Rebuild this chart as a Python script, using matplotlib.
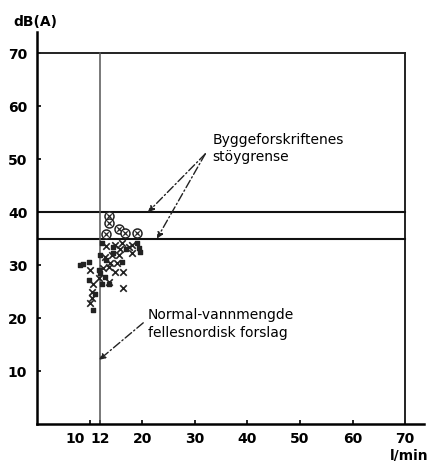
import matplotlib
matplotlib.use("Agg")
import matplotlib.pyplot as plt
from matplotlib.transforms import ScaledTranslation

# ---- data (flow l/min, level dB(A)) ----
circ_x = [13.6, 13.6, 15.5, 16.7, 19.1, 13.1]
circ_y = [39.2, 37.9, 36.9, 36.0, 36.1, 35.8]

cross_x = [13.2, 14.8, 17.4, 18.1, 14.2, 15.5, 12.9, 10.1, 13.6, 14.8, 16.4, 16.4,
           10.4, 10.1, 13.6, 15.8, 16.1, 13.9, 15.2, 11.7, 10.7, 12.6, 18.0, 10.4]
cross_y = [33.6, 33.8, 33.5, 32.2, 31.9, 31.9, 31.6, 29.1, 29.7, 28.7, 28.7, 25.6,
           25.0, 22.8, 26.9, 33.1, 34.1, 30.3, 30.3, 27.5, 26.5, 29.4, 33.8, 23.7]

dot_x = [19.0, 19.3, 19.6, 12.3, 14.5, 17.0, 12.0, 13.2, 16.1, 8.2, 8.7, 9.8,
         11.7, 12.9, 9.8, 12.3, 13.6, 11.0, 10.7, 12.0, 14.5]
dot_y = [34.1, 33.3, 32.5, 34.1, 33.5, 33.1, 31.9, 30.9, 30.6, 30.1, 30.2, 30.6,
         29.1, 27.8, 27.2, 26.5, 26.4, 24.5, 21.5, 28.5, 32.2]

limit_levels = [40, 35]      # Byggeforskriftenes støygrense
norm_flow = 12               # Normal-vannmengde
frame_max = 70

xticks = [10, 12, 20, 30, 40, 50, 60, 70]
xticklabels = ["10", "12", "20", "30", "40", "50", "60", "70"]
yticks = [10, 20, 30, 40, 50, 60, 70]
yticklabels = ["10", "20", "30", "40", "50", "60", "70"]

# ---- figure ----
fig = plt.figure(figsize=(4.29, 4.61), dpi=100)
ax = fig.add_axes([37 / 429, 37 / 461, 386.6 / 429, 392 / 461])
ax.set_xlim(0, 73.5)
ax.set_ylim(0, 74)

for s in ("top", "right"):
    ax.spines[s].set_visible(False)
for s in ("left", "bottom"):
    ax.spines[s].set_linewidth(1.8)
    ax.spines[s].set_color("black")

# frame and reference lines
ax.plot([0, frame_max], [frame_max, frame_max], color="#222222", lw=1.4)
ax.plot([frame_max, frame_max], [0, frame_max], color="#222222", lw=1.4)
for lv in limit_levels:
    ax.plot([0, frame_max], [lv, lv], color="#111111", lw=1.5)
ax.plot([norm_flow, norm_flow], [0, frame_max], color="#555555", lw=1.1)

# scatter
ax.scatter(cross_x, cross_y, marker="x", s=22, color="#222222", linewidths=1.2, zorder=3)
ax.scatter(dot_x, dot_y, marker="s", s=6, color="#222222", zorder=3)
ax.scatter(circ_x, circ_y, marker="o", s=42, facecolors="white", edgecolors="#222222",
           linewidths=1.1, zorder=4)
ax.scatter(circ_x, circ_y, marker="x", s=10, color="#222222", linewidths=0.9, zorder=5)

# ticks
ax.set_xticks(xticks)
ax.set_xticklabels(xticklabels)
ax.set_yticks(yticks)
ax.set_yticklabels(yticklabels)
ax.tick_params(axis="both", direction="in", length=3, width=1.2, labelsize=10)
ax.tick_params(axis="x", pad=6)
ax.tick_params(axis="y", pad=7)
for lab in ax.get_xticklabels() + ax.get_yticklabels():
    lab.set_fontweight("bold")
# shift the "10" label left to avoid "12"
lab10 = ax.get_xticklabels()[0]
lab10.set_transform(lab10.get_transform() + ScaledTranslation(-0.14, 0, fig.dpi_scale_trans))

# axis titles
fig.text(13 / 429, 1 - 22 / 461, "dB(A)", fontsize=10, fontweight="bold", va="center", ha="left")
fig.text(390 / 429, 1 - 455 / 461, "l/min", fontsize=10, fontweight="bold", va="center", ha="left")

# annotations
arrow_kw = dict(arrowstyle="-|>", color="#222222", lw=1.0, linestyle=(0, (6, 2, 1, 2)),
                mutation_scale=9, shrinkA=0, shrinkB=0)
ax.text(33.3, 52.0, "Byggeforskriftenes\nstöygrense", fontsize=10, ha="left", va="center",
        linespacing=1.25)
ax.annotate("", xy=(21.1, 40.0), xytext=(32.0, 51.0), arrowprops=arrow_kw)
ax.annotate("", xy=(22.8, 35.0), xytext=(32.0, 51.0), arrowprops=arrow_kw)

ax.text(21.1, 18.9, "Normal-vannmengde\nfellesnordisk forslag", fontsize=10, ha="left",
        va="center", linespacing=1.35)
ax.annotate("", xy=(11.8, 12.1), xytext=(20.2, 19.1), arrowprops=arrow_kw)

fig.savefig("out.png", dpi=100)
